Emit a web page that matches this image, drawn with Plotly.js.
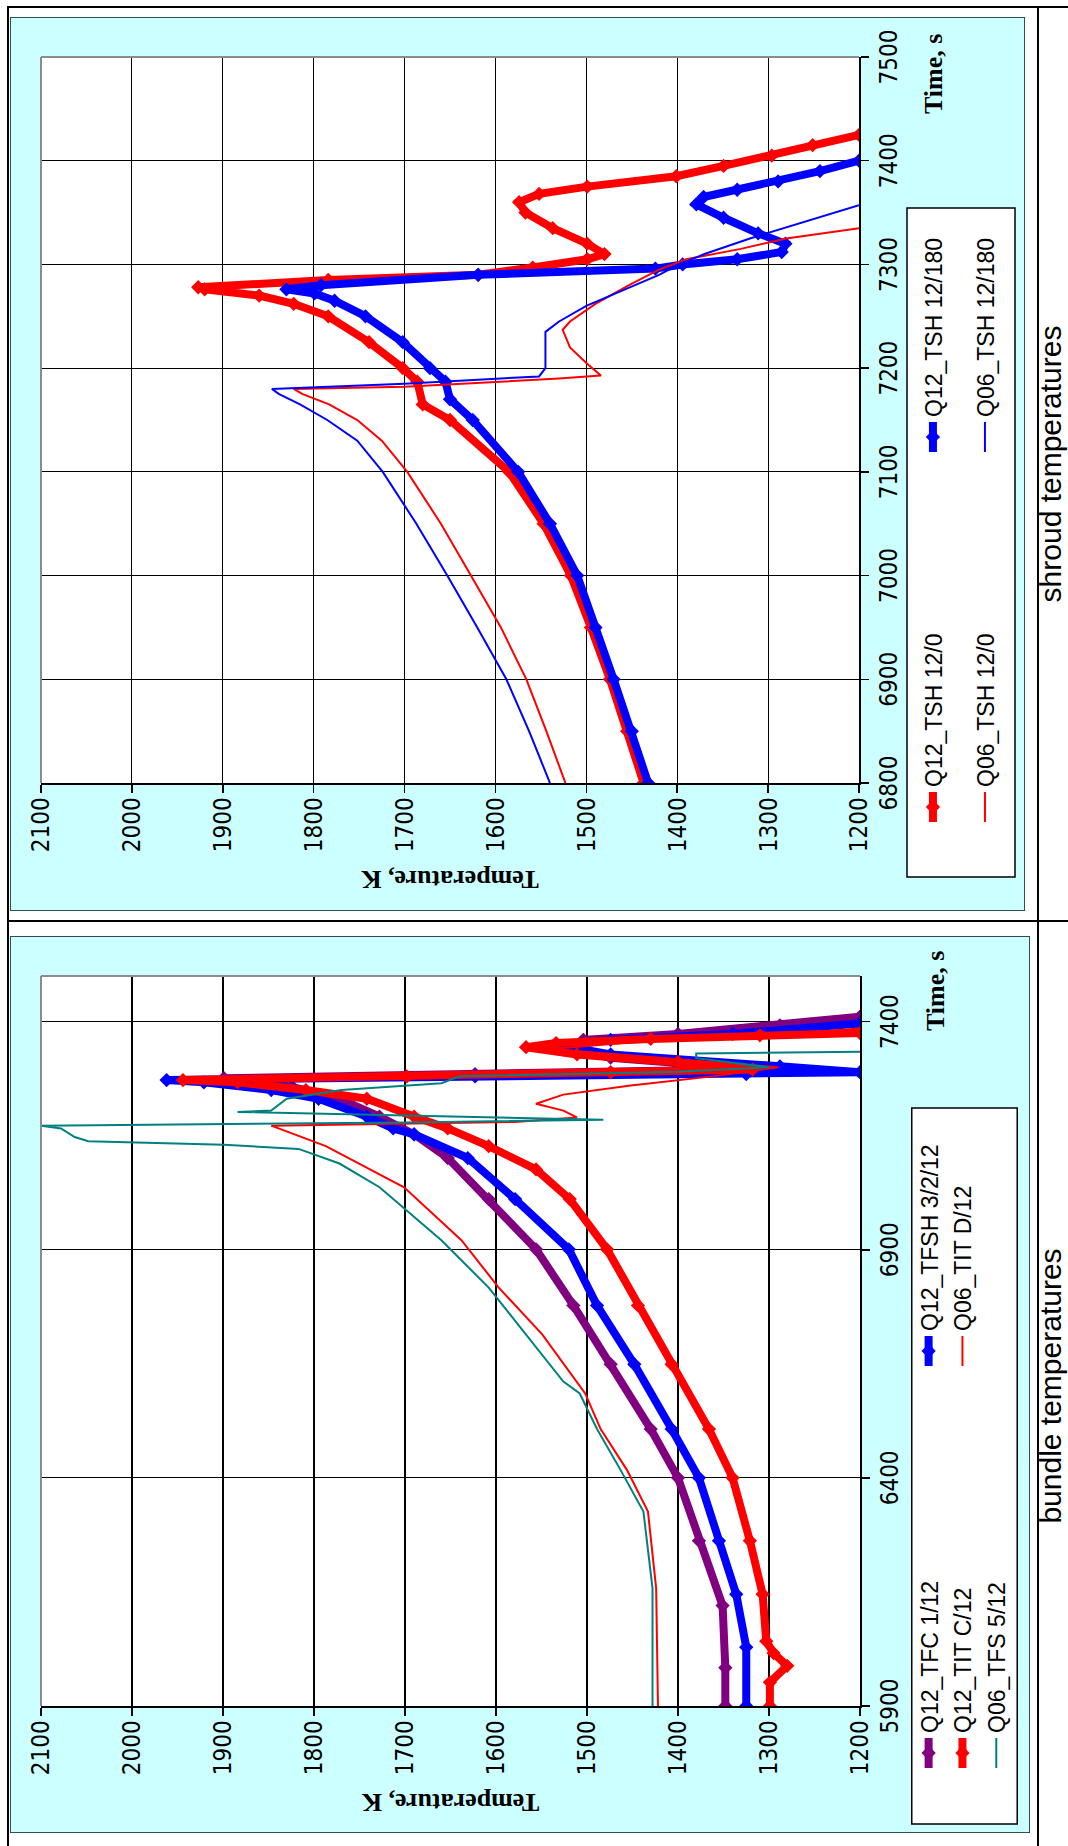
<!DOCTYPE html>
<html><head><meta charset="utf-8">
<script src="https://cdn.plot.ly/plotly-3.0.1.min.js"></script>
<style>
html,body{margin:0;padding:0;background:#fff;}
body{width:1068px;height:1846px;position:relative;overflow:hidden;}
.rule{position:absolute;background:#000;}
.panel{position:absolute;background:#ccffff;box-sizing:border-box;border:1px solid #2f4f4f;}
.plot{position:absolute;transform-origin:0 0;transform:rotate(-90deg);}
.caption{position:absolute;width:320px;height:30px;text-align:center;font-family:"Liberation Sans",Arial,sans-serif;font-size:30px;line-height:30px;white-space:nowrap;transform:rotate(-90deg);color:#000;}
</style></head><body>
<div class="rule" style="left:7px;top:6px;width:2px;height:1840px"></div>
<div class="rule" style="left:7px;top:6px;width:1061px;height:2px"></div>
<div class="rule" style="left:7px;top:920px;width:1061px;height:2px"></div>
<div class="rule" style="left:1037px;top:6px;width:2px;height:1840px"></div>
<div class="panel" style="left:10px;top:17px;width:1015px;height:894px"></div>
<div class="panel" style="left:10px;top:936px;width:1020px;height:897px"></div>
<div id="shroud" class="plot" style="left:10px;top:911px;width:894px;height:1015px"></div>
<div id="bundle" class="plot" style="left:10px;top:1833px;width:897px;height:1020px"></div>
<div class="caption" style="left:891px;top:449px">shroud temperatures</div>
<div class="caption" style="left:891px;top:1371px">bundle temperatures</div>
<script>
// ---------- shroud temperatures (time s, temperature K) ----------
const shQ12_0_time = [6800,6850,6900,6950,7000,7050,7100,7150,7165,7187,7200,7225,7250,7262,7270,7276,7278,7285,7290,7297,7305,7310,7320,7335,7350,7360,7368,7375,7385,7395,7405,7415,7425];
const shQ12_0_temp = [1437,1455,1474,1495,1517,1547,1585,1650,1680,1686,1702,1739,1784,1822,1860,1920,1927,1784,1619,1559,1499,1480,1499,1537,1567,1574,1552,1499,1401,1349,1296,1251,1200];
const shQ12_180_time = [6800,6850,6900,6950,7000,7050,7100,7150,7170,7187,7200,7225,7250,7265,7272,7276,7280,7290,7296,7300,7305,7312,7320,7330,7345,7358,7365,7372,7380,7390,7400];
const shQ12_180_temp = [1432,1450,1470,1490,1510,1540,1575,1625,1650,1655,1672,1702,1743,1777,1799,1830,1792,1619,1424,1394,1334,1285,1281,1311,1349,1379,1371,1334,1289,1243,1200];
const shQ06_0_time = [6800,6850,6900,6950,7000,7050,7100,7130,7150,7165,7175,7180,7182,7190,7193,7205,7220,7237,7245,7262,7280,7295,7305,7315,7325,7335];
const shQ06_0_temp = [1523,1544,1566,1594,1627,1660,1697,1725,1752,1783,1812,1822,1700,1530,1484,1500,1518,1526,1518,1490,1453,1420,1390,1330,1280,1200];
const shQ06_180_time = [6800,6850,6900,6950,7000,7050,7100,7130,7150,7165,7175,7180,7185,7192,7200,7215,7235,7245,7260,7275,7290,7300,7310,7325,7340,7357];
const shQ06_180_temp = [1540,1563,1588,1620,1653,1687,1724,1752,1785,1815,1838,1846,1700,1552,1545,1545,1545,1530,1500,1460,1420,1398,1370,1320,1265,1200];
const shroudNames = ["Q12_TSH 12/0","Q12_TSH 12/180","Q06_TSH 12/0","Q06_TSH 12/180"];

// ---------- bundle temperatures ----------
const buTFC_time = [5900,5984,6120,6262,6400,6507,6649,6778,6901,7011,7101,7153,7192,7231,7257,7276,7285,7293,7302,7321,7340,7360,7373,7392,7411];
const buTFC_temp = [1348,1348,1351,1377,1400,1430,1474,1515,1556,1608,1653,1690,1728,1772,1824,1899,1623,1400,1355,1474,1519,1504,1400,1288,1200];
const buTFSH_time = [5900,6029,6145,6262,6400,6507,6649,6778,6901,7011,7101,7153,7166,7192,7231,7250,7267,7272,7280,7285,7289,7302,7328,7347,7360,7373,7396];
const buTFSH_temp = [1325,1325,1336,1355,1377,1407,1448,1489,1520,1579,1631,1690,1713,1742,1795,1847,1921,1962,1623,1325,1200,1288,1474,1526,1474,1340,1200];
const buTITC_time = [5900,5952,5988,6016,6042,6145,6262,6400,6507,6649,6778,6901,7011,7076,7127,7166,7192,7231,7250,7267,7272,7280,7289,7295,7311,7328,7344,7353,7362,7370,7375];
const buTITC_temp = [1299,1299,1280,1295,1303,1307,1321,1340,1366,1407,1444,1478,1519,1556,1608,1653,1690,1742,1809,1884,1944,1698,1474,1318,1400,1511,1567,1534,1430,1310,1200];
const buTITD_time = [5900,6158,6326,6417,6507,6585,6714,6817,6921,7037,7127,7172,7180,7190,7205,7220,7240,7260,7280,7300,7320,7340,7355,7370,7385];
const buTITD_temp = [1422,1424,1433,1456,1485,1502,1549,1597,1638,1701,1787,1847,1579,1511,1526,1556,1526,1452,1362,1290,1420,1540,1450,1300,1200];
const buTFS_time = [5900,6158,6326,6417,6507,6585,6611,6714,6817,6921,7037,7089,7121,7130,7134,7138,7147,7166,7172,7179,7185,7202,7205,7231,7250,7265,7280,7290,7300,7320,7330,7334];
const buTFS_temp = [1428,1428,1438,1463,1489,1508,1526,1567,1608,1660,1728,1772,1817,1899,1966,2048,2063,2078,2100,1698,1482,1884,1847,1830,1770,1660,1640,1400,1300,1380,1380,1200];
const bundleNames = ["Q12_TFC 1/12","Q12_TFSH 3/2/12","Q12_TIT C/12","Q06_TIT D/12","Q06_TFS 5/12"];

const axisTitleX = "Time, s";
const axisTitleY = "Temperature, K";

function fontAvailable(name){
  const c=document.createElement('canvas').getContext('2d');
  const txt='0123456789 Temperature QTSH';
  c.font='40px monospace'; const m=c.measureText(txt).width;
  c.font='40px serif'; const s=c.measureText(txt).width;
  c.font='40px "'+name+'", monospace'; const a=c.measureText(txt).width;
  c.font='40px "'+name+'", serif'; const b=c.measureText(txt).width;
  return a!==m || b!==s;
}
let tickFont;
if(fontAvailable('Liberation Sans Narrow')) tickFont={family:'"Liberation Sans Narrow", sans-serif',size:29,color:'#000'};
else if(fontAvailable('Arial Narrow')) tickFont={family:'"Arial Narrow", sans-serif',size:29,color:'#000'};
else if(fontAvailable('DejaVu Sans Condensed')) tickFont={family:'"DejaVu Sans Condensed", sans-serif',size:24,color:'#000'};
else tickFont={family:'"Liberation Sans", Arial, sans-serif',size:24,color:'#000'};

const legendFont={family:'"Liberation Sans", Arial, sans-serif',size:23,color:'#000'};
const titleFont={family:'"Liberation Serif", "Times New Roman", serif',size:26,color:'#000',weight:'bold'};

function thick(name,x,y,color,legend){
  return {type:'scatter',mode:'lines+markers',name:name,x:x,y:y,legend:legend,
    line:{color:color,width:8},marker:{symbol:'diamond',size:11,color:color}};
}
function thin(name,x,y,color,legend){
  return {type:'scatter',mode:'lines',name:name,x:x,y:y,legend:legend,line:{color:color,width:2}};
}

function buildLayout(o){
  const pw=o.W-o.l-o.r, ph=o.H-o.t-o.b;
  const px=u=>(u-o.l)/pw;
  const py=v=>(o.H-o.b-v)/ph;
  const axisBase={showgrid:true,gridcolor:'#000',gridwidth:1.2,zeroline:false,showline:true,linecolor:'#000',linewidth:1.5,
    ticks:'outside',ticklen:8,tickwidth:1.5,tickcolor:'#000',tickfont:tickFont};
  const layout={
    width:o.W,height:o.H,margin:{l:o.l,r:o.r,t:o.t,b:o.b,pad:0},
    paper_bgcolor:'rgba(0,0,0,0)',plot_bgcolor:'#ffffff',showlegend:true,
    xaxis:Object.assign({},axisBase,{range:o.xrange,tick0:o.tick0,dtick:o.dtick}),
    yaxis:Object.assign({},axisBase,{range:[1200,2100],tick0:1200,dtick:100,
      title:{text:axisTitleY,font:titleFont,standoff:10}}),
    shapes:[
      {type:'rect',xref:'paper',yref:'paper',x0:px(o.box[0]),x1:px(o.box[1]),y0:py(o.box[3]),y1:py(o.box[2]),
       fillcolor:'#ffffff',line:{color:'#000',width:1.5},layer:'below'},
      {type:'line',xref:'paper',yref:'paper',x0:0,x1:1,y0:1,y1:1,line:{color:'#8c8c8c',width:2},layer:'above'},
      {type:'line',xref:'paper',yref:'paper',x0:1,x1:1,y0:0,y1:1,line:{color:'#8c8c8c',width:2},layer:'above'}
    ],
    annotations:[{xref:'paper',yref:'paper',x:px(o.timeRight),y:py(o.timeV),xanchor:'right',yanchor:'middle',
      text:axisTitleX,showarrow:false,font:titleFont}]
  };
  o.rows.forEach((v,i)=>{
    const key=i===0?'legend':'legend'+(i+1);
    layout[key]={orientation:'h',x:px(o.legendU),xanchor:'left',y:py(v),yanchor:'middle',
      bgcolor:'rgba(0,0,0,0)',borderwidth:0,font:legendFont,entrywidth:o.entry,entrywidthmode:'pixels',
      traceorder:'normal',tracegroupgap:0};
  });
  return layout;
}

const shroudTraces=[
  thick(shroudNames[0],shQ12_0_time,shQ12_0_temp,'#ff0000','legend'),
  thick(shroudNames[1],shQ12_180_time,shQ12_180_temp,'#0000ff','legend'),
  thin(shroudNames[2],shQ06_0_time,shQ06_0_temp,'#ff0000','legend2'),
  thin(shroudNames[3],shQ06_180_time,shQ06_180_temp,'#0000ff','legend2')
];
const shroudLayout=buildLayout({W:894,H:1015,l:128,r:40,t:31,b:166,xrange:[6800,7500],tick0:6800,dtick:100,
  box:[34,703,897,1005],rows:[923,975],legendU:84,entry:325,timeRight:879,timeV:923});

const bundleTraces=[
  thick(bundleNames[0],buTFC_time,buTFC_temp,'#800080','legend'),
  thick(bundleNames[1],buTFSH_time,buTFSH_temp,'#0000ff','legend'),
  thick(bundleNames[2],buTITC_time,buTITC_temp,'#ff0000','legend2'),
  thin(bundleNames[3],buTITD_time,buTITD_temp,'#ff0000','legend2'),
  thin(bundleNames[4],buTFS_time,buTFS_temp,'#008080','legend3')
];
const bundleLayout=buildLayout({W:897,H:1020,l:127,r:40,t:31,b:166,xrange:[5900,7500],tick0:5900,dtick:500,
  box:[9,725,906,1012],rows:[923,957,991],legendU:60,entry:357,timeRight:884,timeV:930});

const cfg={staticPlot:true,displayModeBar:false};
Plotly.newPlot('shroud',shroudTraces,shroudLayout,cfg);
Plotly.newPlot('bundle',bundleTraces,bundleLayout,cfg);
</script>
</body></html>
